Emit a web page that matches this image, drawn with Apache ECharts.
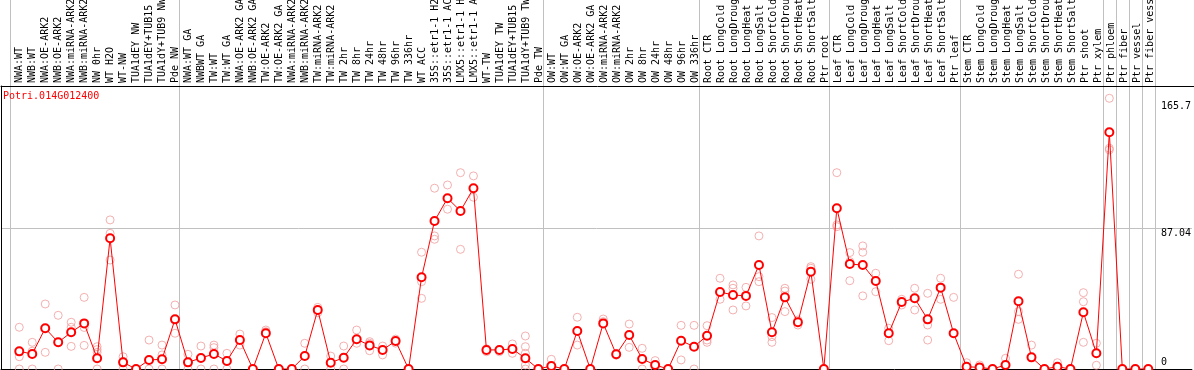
<!DOCTYPE html>
<html>
<head>
<meta charset="utf-8">
<script src="https://cdn.jsdelivr.net/npm/echarts@6/dist/echarts.min.js"></script>
<style>
  html, body { margin: 0; padding: 0; background: #fff; }
  #main { width: 1194px; height: 370px; }
</style>
</head>
<body>
<div id="main"></div>
<script>
// gene expression profile, one column per sample

const geneId = 'Potri.014G012400';

const categories = [
  'NWA:WT', 'NWB:WT', 'NWA:OE-ARK2', 'NWB:OE-ARK2', 'NWA:miRNA-ARK2', 'NWB:miRNA-ARK2',
  'NW 0hr', 'WT H2O', 'WT-NW', 'TUA1dEY NW', 'TUA1dEY+TUB15', 'TUA1dY+TUB9 NW', 'Pde NW',
  'NWA:WT GA', 'NWBWT GA', 'TW:WT', 'TW:WT GA', 'NWA:OE-ARK2 GA', 'NWB:OE-ARK2 GA',
  'TW:OE-ARK2', 'TW:OE-ARK2 GA', 'NWA:miRNA-ARK2', 'NWB:miRNA-ARK2', 'TW:miRNA-ARK2',
  'TW:miRNA-ARK2', 'TW 2hr', 'TW 8hr', 'TW 24hr', 'TW 48hr', 'TW 96hr', 'TW 336hr',
  'WT ACC', '35S::etr1-1 H2', '35S::etr1-1 AC', 'LMX5::etr1-1 H', 'LMX5::etr1-1 A',
  'WT-TW', 'TUA1dEY TW', 'TUA1dEY+TUB15', 'TUA1dY+TUB9 TW', 'Pde TW',
  'OW:WT', 'OW:WT GA', 'OW:OE-ARK2', 'OW:OE-ARK2 GA', 'OW:miRNA-ARK2', 'OW:miRNA-ARK2',
  'OW 2hr', 'OW 8hr', 'OW 24hr', 'OW 48hr', 'OW 96hr', 'OW 336hr',
  'Root CTR', 'Root LongCold', 'Root LongDroug', 'Root LongHeat', 'Root LongSalt',
  'Root ShortCold', 'Root ShortDrou', 'Root ShortHeat', 'Root ShortSalt', 'Ptr root',
  'Leaf CTR', 'Leaf LongCold', 'Leaf LongDroug', 'Leaf LongHeat', 'Leaf LongSalt',
  'Leaf ShortCold', 'Leaf ShortDrou', 'Leaf ShortHeat', 'Leaf ShortSalt', 'Ptr leaf',
  'Stem CTR', 'Stem LongCold', 'Stem LongDroug', 'Stem LongHeat', 'Stem LongSalt',
  'Stem ShortCold', 'Stem ShortDrou', 'Stem ShortHeat', 'Stem ShortSalt', 'Ptr shoot',
  'Ptr xylem', 'Ptr phloem', 'Ptr fiber', 'Ptr vessel', 'Ptr fiber vess'
];

// first sample of each experiment block (grey separators)
const groupStarts = [0, 13, 41, 53, 63, 73, 84, 85, 86, 87];

const meanValues = [
  10.9, 9.3, 25.2, 16.5, 22.7, 28.2, 6.6, 80.8, 4.1, 0, 5.6, 6.0, 30.7,
  4.1, 6.8, 9.3, 4.9, 17.9, 0, 22.1, 0, 0, 8.0, 36.5, 3.9, 7.0, 18.4, 14.6, 11.8,
  17.3, 0, 56.7, 91.5, 105.6, 97.7, 111.8, 11.8, 11.8, 12.4, 6.6, 0,
  1.9, 0, 23.5, 0, 28.2, 9.1, 21.0, 6.2, 2.5, 0, 17.5, 13.8,
  20.6, 47.6, 45.8, 45.2, 64.3, 22.7, 44.3, 28.9, 60.2, 0,
  99.4, 64.9, 64.3, 54.4, 22.1, 41.4, 43.7, 30.7, 50.3, 22.1,
  1.4, 1.0, 0, 2.5, 41.9, 7.2, 0, 1.4, 0, 35.1, 9.7,
  146.4, 0, 0, 0
];

const replicates = [
  [25.8, 7.6, 0], [16.5, 11.0, 0], [40.2, 25.2, 10.3], [33.2, 16.3, 0], [28.9, 25.8, 14.0],
  [44.3, 25.7, 14.6], [13.8, 12.0, 10.3, 0], [92.2, 83.9, 67.4], [7.6, 4.7, 0], [0, 0],
  [17.9, 0], [14.8, 8.7, 0], [39.6, 22.1],
  [9.1, 0], [14.2, 0], [14.8, 13.2, 0], [9.7, 0], [21.6, 14.8], [0], [24.1, 23.1], [0], [0],
  [15.9, 0], [38.1, 34.8], [8.0, 0], [14.2, 0], [24.1, 15.9], [16.9, 15.9, 11.3], [14.2, 8.7],
  [18.5, 16.0], [0], [72.2, 54.0, 43.7], [111.8, 82.3, 80.2], [113.8, 98.8], [121.4, 74.0],
  [119.4, 106.2], [10.7, 12.5], [10.7, 12.0], [15.5, 9.7], [20.4, 13.8, 9.7, 2.5, 0], [0, 0],
  [6.0, 0], [0], [32.0, 14.8], [0], [30.9, 29.3], [9.7, 8.5], [27.8, 13.4], [12.8, 0],
  [5.2, 0], [0], [27.0, 5.6], [27.0, 0],
  [26.8, 17.9, 16.5], [56.1, 43.1], [52.0, 49.9, 36.5], [50.5, 39.0], [82.3, 57.1, 54.0],
  [31.8, 20.0, 16.5], [49.9, 48.2, 35.5], [30.3, 27.2], [63.3, 62.3, 55.5], [0],
  [121.4, 89.1, 88.0], [72.0, 66.4, 54.6], [76.1, 72.2, 45.2], [59.2, 47.8], [25.2, 17.5],
  [43.1, 39.6], [49.9, 36.5], [46.8, 27.2, 17.9], [56.1, 43.1], [44.3],
  [3.9], [2.5], [0], [6.6], [58.6, 35.5, 30.7], [14.8], [0], [3.9], [0],
  [47.2, 41.6, 16.5], [15.9, 2.3],
  [167.4, 136.5, 135.5], [0], [0], [0]
];

const yLabelValues = [0, 87.04, 165.7];
const yGridValues = [87.04];

const FONT = 'DejaVu Sans Mono';

let meanData = meanValues.map(function (v, i) { return [i, v]; });
let repData = [];
replicates.forEach(function (reps, i) {
  reps.forEach(function (r) { repData.push([i, r]); });
});

let hidden = { show: false };

let option = {
  animation: false,
  backgroundColor: '#fff',
  title: {
    text: geneId,
    left: 3,
    top: 91,
    padding: 0,
    textStyle: { fontFamily: FONT, fontSize: 10, fontWeight: 'normal', color: '#ff0000' }
  },
  grid: [
    // separators through header and plot
    { left: 10, top: 0, width: 1145, height: 369 },
    // sample names
    { left: 12.8, top: 0, width: 1144, height: 86 },
    // plot
    { left: 1, top: 86, width: 1193, height: 283 },
    // header frame
    { left: 1, top: 0, width: 1193, height: 86 }
  ],
  xAxis: [
    {
      gridIndex: 0, type: 'category', data: categories, boundaryGap: true,
      axisLine: hidden, axisTick: hidden, axisLabel: hidden,
      splitLine: {
        show: true,
        interval: function (idx) { return groupStarts.indexOf(idx) >= 0; },
        lineStyle: { color: '#c0c0c0', width: 1 }
      }
    },
    {
      gridIndex: 1, type: 'category', data: categories, boundaryGap: true, position: 'bottom',
      axisLine: hidden, axisTick: hidden, splitLine: hidden,
      axisLabel: {
        inside: true, rotate: 90, interval: 0, margin: 3,
        fontFamily: FONT, fontSize: 10, color: '#000'
      }
    },
    {
      gridIndex: 2, type: 'value', min: -1.4077, max: 90.362,
      axisLine: { show: true, onZero: false, lineStyle: { color: '#000', width: 1 } },
      axisTick: hidden, axisLabel: hidden, splitLine: hidden
    },
    {
      gridIndex: 3, type: 'value', min: 0, max: 1,
      axisLine: { show: true, onZero: false, lineStyle: { color: '#000', width: 1 } },
      axisTick: hidden, axisLabel: hidden, splitLine: hidden
    }
  ],
  yAxis: [
    { gridIndex: 0, show: false },
    { gridIndex: 1, show: false },
    {
      gridIndex: 2, type: 'value', min: 0, max: 175, position: 'left',
      axisLine: { show: true, onZero: false, lineStyle: { color: '#000', width: 1 } },
      axisTick: hidden, axisLabel: hidden, splitLine: hidden
    },
    {
      gridIndex: 2, type: 'value', min: 0, max: 175, position: 'right',
      axisLine: hidden,
      axisTick: { show: false, customValues: yGridValues },
      splitLine: { show: true, lineStyle: { color: '#c0c0c0', width: 1 } },
      axisLabel: {
        inside: true, align: 'left', margin: 31,
        customValues: yLabelValues,
        fontFamily: FONT, fontSize: 10, color: '#000',
        formatter: function (v) {
          return v === 0 ? '{lo|0}' : '{hi|' + v + '}';
        },
        rich: {
          hi: { fontFamily: FONT, fontSize: 10, color: '#000', padding: [10, 0, 0, 0] },
          lo: { fontFamily: FONT, fontSize: 10, color: '#000', padding: [0, 0, 13, 0] }
        }
      }
    },
    { gridIndex: 3, show: false }
  ],
  series: [
    {
      name: 'replicates',
      type: 'scatter',
      xAxisIndex: 2, yAxisIndex: 2,
      data: repData,
      symbol: 'circle',
      symbolSize: 8,
      silent: true,
      itemStyle: { color: 'rgba(0,0,0,0)', borderColor: '#f09c9c', borderWidth: 1 },
      z: 2
    },
    {
      name: 'mean',
      type: 'line',
      xAxisIndex: 2, yAxisIndex: 2,
      data: meanData,
      symbol: 'emptyCircle',
      symbolSize: 8,
      showAllSymbol: true,
      silent: true,
      lineStyle: { color: '#ff0000', width: 1 },
      itemStyle: { color: '#ff0000', borderColor: '#ff0000', borderWidth: 1.2 },
      z: 3
    }
  ]
};

let myChart = echarts.init(document.getElementById('main'));
myChart.setOption(option);
</script>
</body>
</html>
